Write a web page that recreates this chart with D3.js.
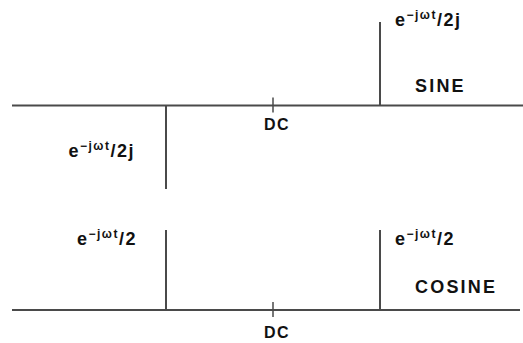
<!DOCTYPE html>
<html>
<head>
<title>Sine and cosine spectra</title>
<script src="https://d3js.org/d3.v7.min.js"></script>
<style>
  body { margin: 0; background: #fff; }
  text { font-family: "Liberation Sans", Arial, sans-serif; font-weight: bold; fill: #111; }
</style>
</head>
<body>
<div id="chart"></div>
<script>
// spectral lines: frequency (in units of w) and amplitude
var sineFreq = [-1, 1];
var sineAmp = [-1, 1];
var cosineFreq = [-1, 1];
var cosineAmp = [1, 1];
var panelNames = ["SINE", "COSINE"];
var dcLabel = "DC";
var sineLabels = ["/2j", "/2j"];
var cosineLabels = ["/2", "/2"];

var W = 523, H = 343;
var svg = d3.select("#chart").append("svg")
    .attr("width", W).attr("height", H);

// frequency scale shared by both panels
var x = d3.scaleLinear().domain([-1, 1]).range([166, 380]);

// amplitude scales, one per panel
var ySine = d3.scaleLinear().domain([-1, 1]).range([189, 22]);
var yCos = d3.scaleLinear().domain([0, 1]).range([310, 230]);

var lineColor = "#4a4a4a";

function drawPanel(y, freq, amp, name, labels, opts) {
    var g = svg.append("g");

    // frequency axis
    g.append("line")
        .attr("x1", 12).attr("x2", opts.axisEnd)
        .attr("y1", y(0)).attr("y2", y(0))
        .attr("stroke", lineColor).attr("stroke-width", 2);

    // DC tick
    g.append("line")
        .attr("x1", x(0)).attr("x2", x(0))
        .attr("y1", y(0) - 8).attr("y2", y(0) + 7)
        .attr("stroke", lineColor).attr("stroke-width", 1.5);

    g.append("text")
        .attr("x", x(0) - 9).attr("y", y(0) + opts.dcDy)
        .attr("font-size", 16).attr("letter-spacing", 1.5)
        .text(dcLabel);

    // impulses
    g.selectAll("line.imp")
        .data(freq)
        .enter().append("line")
        .attr("class", "imp")
        .attr("x1", d => x(d)).attr("x2", d => x(d))
        .attr("y1", y(0))
        .attr("y2", (d, i) => y(amp[i]))
        .attr("stroke", lineColor).attr("stroke-width", 2);

    // impulse labels e^{-jwt}/...
    freq.forEach(function (f, i) {
        var pos = opts.labelPos[i];
        var t = g.append("text")
            .attr("x", x(f) + pos[0])
            .attr("y", y(amp[i]) + pos[1])
            .attr("text-anchor", f < 0 ? "end" : "start")
            .attr("font-size", 18)
            .attr("letter-spacing", 1.5);
        t.append("tspan").text("e");
        t.append("tspan").attr("font-size", 12).attr("dy", -7).text("\u2212j\u03c9t");
        t.append("tspan").attr("dy", 7).text(labels[i]);
    });

    // panel name
    g.append("text")
        .attr("x", 415).attr("y", y(0) + opts.nameDy)
        .attr("font-size", 18).attr("letter-spacing", 2.2)
        .text(name);
}

drawPanel(ySine, sineFreq, sineAmp, panelNames[0], sineLabels, {
    axisEnd: 523, dcDy: 24, nameDy: -14,
    labelPos: [[-31, -32], [15, 4]]
});
drawPanel(yCos, cosineFreq, cosineAmp, panelNames[1], cosineLabels, {
    axisEnd: 520, dcDy: 28, nameDy: -17,
    labelPos: [[-29, 15], [15, 15]]
});
</script>
</body>
</html>
